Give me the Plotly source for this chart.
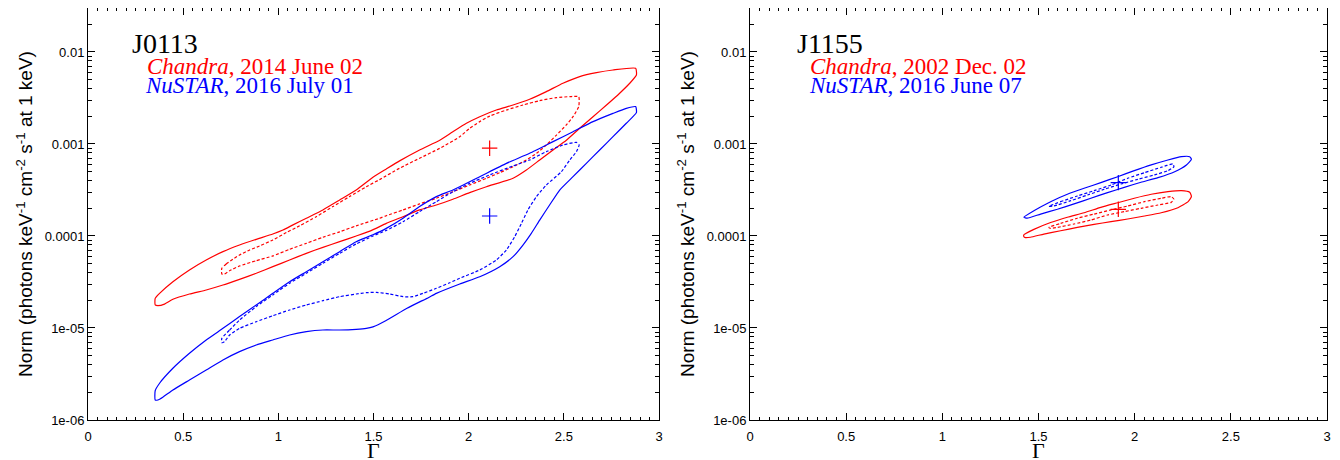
import plotly.graph_objects as go

# ---------------- data ----------------
# J0113 -- Chandra (red), outer (solid) and inner (dashed) contours
j0113_chandra_outer_gamma = [0.353, 0.376, 0.446, 0.533, 0.621, 0.709, 0.796, 0.884, 0.971, 1.024, 1.077, 1.147,
                             1.234, 1.322, 1.409, 1.497, 1.567, 1.637, 1.742, 1.848, 1.917, 1.988, 2.058, 2.145,
                             2.233, 2.320, 2.408, 2.495, 2.583, 2.671, 2.758, 2.877, 2.881, 2.846, 2.793, 2.724,
                             2.653, 2.583, 2.513, 2.443, 2.373, 2.303, 2.233, 2.093, 2.005, 1.917, 1.830, 1.742,
                             1.655, 1.567, 1.490, 1.409, 1.322, 1.234, 1.147, 1.059, 0.971, 0.884, 0.796, 0.709,
                             0.621, 0.533, 0.446, 0.402, 0.367, 0.353, 0.353]
j0113_chandra_outer_norm = [2.10e-5, 2.38e-5, 3.18e-5, 4.27e-5, 5.48e-5, 6.76e-5, 7.98e-5, 9.20e-5, 1.05e-4, 1.16e-4,
                            1.32e-4, 1.56e-4, 1.92e-4, 2.46e-4, 3.16e-4, 4.35e-4, 5.35e-4, 6.55e-4, 8.61e-4, 1.10e-3,
                            1.36e-3, 1.68e-3, 1.98e-3, 2.34e-3, 2.65e-3, 3.06e-3, 3.71e-3, 4.57e-3, 5.40e-3, 5.96e-3,
                            6.37e-3, 6.65e-3, 5.62e-3, 4.57e-3, 3.56e-3, 2.65e-3, 1.98e-3, 1.48e-3, 1.10e-3, 8.61e-4,
                            6.70e-4, 5.21e-4, 4.24e-4, 3.43e-4, 2.96e-4, 2.51e-4, 2.17e-4, 1.92e-4, 1.62e-4, 1.37e-4,
                            1.15e-4, 1.00e-4, 8.67e-5, 7.53e-5, 6.48e-5, 5.48e-5, 4.64e-5, 3.93e-5, 3.38e-5, 2.93e-5,
                            2.59e-5, 2.34e-5, 2.05e-5, 1.82e-5, 1.75e-5, 1.78e-5, 2.10e-5]
j0113_chandra_inner_gamma = [0.703, 0.726, 0.761, 0.796, 0.849, 0.901, 0.971, 1.042, 1.112, 1.199, 1.287, 1.374,
                             1.462, 1.532, 1.637, 1.742, 1.848, 1.953, 2.005, 2.058, 2.110, 2.198, 2.285, 2.373,
                             2.461, 2.531, 2.578, 2.578, 2.548, 2.513, 2.461, 2.408, 2.356, 2.303, 2.233, 2.163,
                             2.093, 2.005, 1.917, 1.830, 1.742, 1.655, 1.567, 1.532, 1.409, 1.322, 1.234, 1.147,
                             1.059, 0.971, 0.884, 0.796, 0.744, 0.717, 0.703, 0.703]
j0113_chandra_inner_norm = [4.46e-5, 4.97e-5, 5.58e-5, 6.21e-5, 7.05e-5, 7.79e-5, 9.05e-5, 1.09e-4, 1.29e-4, 1.62e-4,
                            2.09e-4, 2.68e-4, 3.43e-4, 4.10e-4, 5.45e-4, 7.00e-4, 8.97e-4, 1.20e-3, 1.48e-3, 1.75e-3,
                            2.01e-3, 2.34e-3, 2.65e-3, 2.96e-3, 3.19e-3, 3.27e-3, 3.27e-3, 2.55e-3, 1.98e-3, 1.61e-3,
                            1.25e-3, 9.75e-4, 7.92e-4, 6.70e-4, 5.66e-4, 4.88e-4, 4.24e-4, 3.58e-4, 3.03e-4, 2.57e-4,
                            2.23e-4, 1.92e-4, 1.66e-4, 1.56e-4, 1.29e-4, 1.11e-4, 9.69e-5, 8.32e-5, 7.17e-5, 6.07e-5,
                            5.39e-5, 4.72e-5, 4.20e-5, 3.86e-5, 3.86e-5, 4.46e-5]
j0113_chandra_best = (2.11, 9.0e-4)

# J0113 -- NuSTAR (blue)
j0113_nustar_outer_gamma = [0.353, 0.376, 0.446, 0.533, 0.621, 0.709, 0.796, 0.884, 0.971, 1.059, 1.147, 1.234,
                            1.322, 1.409, 1.497, 1.567, 1.655, 1.742, 1.830, 1.917, 2.058, 2.198, 2.320, 2.443,
                            2.548, 2.653, 2.758, 2.828, 2.877, 2.881, 2.828, 2.758, 2.688, 2.618, 2.548, 2.478,
                            2.425, 2.373, 2.329, 2.285, 2.233, 2.163, 2.058, 1.953, 1.830, 1.790, 1.676, 1.564,
                            1.497, 1.462, 1.409, 1.322, 1.234, 1.147, 1.059, 0.971, 0.884, 0.796, 0.709, 0.621,
                            0.533, 0.446, 0.393, 0.367, 0.353, 0.353]
j0113_nustar_outer_norm = [2.08e-6, 2.51e-6, 3.65e-6, 5.31e-6, 7.41e-6, 9.91e-6, 1.33e-5, 1.78e-5, 2.38e-5, 3.18e-5,
                           4.09e-5, 5.26e-5, 6.76e-5, 8.67e-5, 1.03e-4, 1.21e-4, 1.56e-4, 2.09e-4, 2.68e-4, 3.16e-4,
                           4.41e-4, 6.16e-4, 7.92e-4, 1.06e-3, 1.36e-3, 1.75e-3, 2.15e-3, 2.44e-3, 2.55e-3, 2.19e-3,
                           1.68e-3, 1.20e-3, 8.61e-4, 6.16e-4, 4.41e-4, 3.16e-4, 2.17e-4, 1.49e-4, 1.07e-4, 7.98e-5,
                           5.96e-5, 4.64e-5, 3.61e-5, 3.01e-5, 2.38e-5, 2.15e-5, 1.64e-5, 1.20e-5, 1.03e-5, 9.91e-6,
                           9.68e-6, 9.51e-6, 9.51e-6, 9.12e-6, 8.39e-6, 7.41e-6, 6.54e-6, 5.53e-6, 4.49e-6, 3.49e-6,
                           2.72e-6, 2.12e-6, 1.77e-6, 1.65e-6, 1.65e-6, 2.08e-6]
j0113_nustar_inner_gamma = [0.703, 0.744, 0.796, 0.884, 0.971, 1.059, 1.147, 1.234, 1.322, 1.409, 1.497, 1.567,
                            1.655, 1.742, 1.830, 1.917, 2.005, 2.110, 2.233, 2.320, 2.408, 2.495, 2.566, 2.580,
                            2.566, 2.531, 2.487, 2.408, 2.356, 2.311, 2.277, 2.242, 2.198, 2.145, 2.058, 1.953,
                            1.900, 1.830, 1.760, 1.707, 1.655, 1.585, 1.515, 1.462, 1.409, 1.322, 1.234, 1.147,
                            1.059, 0.971, 0.884, 0.796, 0.744, 0.717, 0.703, 0.703]
j0113_nustar_inner_norm = [7.72e-6, 9.51e-6, 1.22e-5, 1.71e-5, 2.29e-5, 3.06e-5, 3.93e-5, 5.05e-5, 6.48e-5, 8.19e-5,
                           1.00e-4, 1.15e-4, 1.43e-4, 1.84e-4, 2.36e-4, 3.03e-4, 3.73e-4, 4.61e-4, 5.77e-4, 6.70e-4,
                           8.26e-4, 9.75e-4, 1.04e-3, 9.75e-4, 8.26e-4, 6.70e-4, 5.00e-4, 3.58e-4, 2.68e-4, 1.92e-4,
                           1.37e-4, 9.84e-5, 7.05e-5, 5.48e-5, 4.27e-5, 3.47e-5, 3.10e-5, 2.70e-5, 2.38e-5, 2.19e-5,
                           2.19e-5, 2.34e-5, 2.44e-5, 2.42e-5, 2.34e-5, 2.19e-5, 1.98e-5, 1.78e-5, 1.57e-5, 1.36e-5,
                           1.17e-5, 9.91e-6, 8.39e-6, 7.10e-6, 6.92e-6, 7.72e-6]
j0113_nustar_best = (2.11, 1.65e-4)

# J1155 -- Chandra (red)
j1155_chandra_outer_gamma = [1.424, 1.476, 1.563, 1.650, 1.737, 1.824, 1.912, 1.998, 2.086, 2.173, 2.243, 2.286,
                             2.295, 2.278, 2.225, 2.138, 2.051, 1.964, 1.877, 1.789, 1.702, 1.615, 1.528, 1.458,
                             1.432, 1.424, 1.424]
j1155_chandra_outer_norm = [1.03e-4, 1.18e-4, 1.40e-4, 1.60e-4, 1.79e-4, 2.05e-4, 2.30e-4, 2.57e-4, 2.84e-4, 3.03e-4,
                            3.11e-4, 2.99e-4, 2.68e-4, 2.36e-4, 2.03e-4, 1.79e-4, 1.65e-4, 1.53e-4, 1.43e-4, 1.34e-4,
                            1.24e-4, 1.14e-4, 1.05e-4, 9.69e-5, 9.60e-5, 9.82e-5, 1.03e-4]
j1155_chandra_inner_gamma = [1.554, 1.615, 1.702, 1.789, 1.877, 1.964, 2.051, 2.138, 2.190, 2.204, 2.190, 2.121,
                             2.033, 1.946, 1.859, 1.772, 1.685, 1.598, 1.563, 1.554]
j1155_chandra_inner_norm = [1.24e-4, 1.37e-4, 1.56e-4, 1.73e-4, 1.92e-4, 2.12e-4, 2.36e-4, 2.57e-4, 2.68e-4, 2.51e-4,
                            2.32e-4, 2.17e-4, 2.00e-4, 1.84e-4, 1.69e-4, 1.49e-4, 1.35e-4, 1.24e-4, 1.21e-4, 1.24e-4]
j1155_chandra_best = (1.915, 1.95e-4)

# J1155 -- NuSTAR (blue)
j1155_nustar_outer_gamma = [1.424, 1.476, 1.563, 1.650, 1.737, 1.824, 1.912, 1.998, 2.086, 2.173, 2.243, 2.286,
                            2.295, 2.269, 2.208, 2.121, 2.033, 1.946, 1.859, 1.772, 1.685, 1.598, 1.511, 1.441,
                            1.424]
j1155_nustar_outer_norm = [1.60e-4, 1.88e-4, 2.36e-4, 2.84e-4, 3.30e-4, 3.80e-4, 4.41e-4, 5.13e-4, 5.92e-4, 6.70e-4,
                           7.28e-4, 7.28e-4, 6.82e-4, 5.92e-4, 5.00e-4, 4.31e-4, 3.84e-4, 3.38e-4, 2.96e-4, 2.57e-4,
                           2.23e-4, 1.95e-4, 1.73e-4, 1.56e-4, 1.60e-4]
j1155_nustar_inner_gamma = [1.554, 1.615, 1.702, 1.789, 1.877, 1.964, 2.051, 2.138, 2.199, 2.204, 2.173, 2.103,
                            2.016, 1.929, 1.842, 1.755, 1.668, 1.580, 1.554]
j1155_nustar_inner_norm = [2.10e-4, 2.36e-4, 2.72e-4, 3.11e-4, 3.58e-4, 4.24e-4, 4.88e-4, 5.58e-4, 6.07e-4, 5.66e-4,
                           5.13e-4, 4.61e-4, 4.13e-4, 3.67e-4, 3.22e-4, 2.79e-4, 2.42e-4, 2.12e-4, 2.10e-4]
j1155_nustar_best = (1.915, 3.80e-4)

# labels
panel_names = ["J0113", "J1155"]
chandra_labels = ["<i>Chandra</i>, 2014 June 02", "<i>Chandra</i>, 2002 Dec. 02"]
nustar_labels = ["<i>NuSTAR</i>, 2016 July 01", "<i>NuSTAR</i>, 2016 June 07"]
x_tick_vals = [0, 0.5, 1, 1.5, 2, 2.5, 3]
x_tick_text = ["0", "0.5", "1", "1.5", "2", "2.5", "3"]
y_tick_vals = [1e-6, 1e-5, 1e-4, 1e-3, 1e-2]
y_tick_text = ["1e-06", "1e-05", "0.0001", "0.001", "0.01"]
x_title = "Γ"
y_title = "Norm (photons keV<sup>-1</sup> cm<sup>-2</sup> s<sup>-1</sup> at 1 keV)"

RED = "#ff0000"
BLUE = "#0000ff"
DASH = "3px,2px"

fig = go.Figure()

panels = [
    dict(xa="x", ya="y", sets=[
        (j0113_chandra_outer_gamma, j0113_chandra_outer_norm, RED, "solid"),
        (j0113_chandra_inner_gamma, j0113_chandra_inner_norm, RED, DASH),
        (j0113_nustar_outer_gamma, j0113_nustar_outer_norm, BLUE, "solid"),
        (j0113_nustar_inner_gamma, j0113_nustar_inner_norm, BLUE, DASH),
    ], best=[(j0113_chandra_best, RED), (j0113_nustar_best, BLUE)]),
    dict(xa="x2", ya="y2", sets=[
        (j1155_chandra_outer_gamma, j1155_chandra_outer_norm, RED, "solid"),
        (j1155_chandra_inner_gamma, j1155_chandra_inner_norm, RED, DASH),
        (j1155_nustar_outer_gamma, j1155_nustar_outer_norm, BLUE, "solid"),
        (j1155_nustar_inner_gamma, j1155_nustar_inner_norm, BLUE, DASH),
    ], best=[(j1155_chandra_best, RED), (j1155_nustar_best, BLUE)]),
]

for p in panels:
    for gx, ny, col, dash in p["sets"]:
        fig.add_trace(go.Scatter(x=gx, y=ny, mode="lines", xaxis=p["xa"], yaxis=p["ya"],
                                 line=dict(color=col, width=1.2, dash=dash, shape="spline", smoothing=0.5),
                                 showlegend=False, hoverinfo="skip"))
    for (bx, by), col in p["best"]:
        fig.add_trace(go.Scatter(x=[bx], y=[by], mode="markers", xaxis=p["xa"], yaxis=p["ya"],
                                 marker=dict(symbol="cross-thin", size=11, line=dict(color=col, width=1.2)),
                                 showlegend=False, hoverinfo="skip"))

minor_y = [m * 10.0 ** e for e in range(-6, -1) for m in range(2, 10)]

tick_font = dict(family="Liberation Sans, Arial, sans-serif", size=13, color="#000")
serif = "Liberation Serif, Times New Roman, serif"

def xaxis_style(domain, anchor):
    return dict(domain=domain, anchor=anchor, range=[0, 3], tickmode="array", tickvals=x_tick_vals,
                ticktext=x_tick_text, ticks="inside", ticklen=7, tickwidth=1, tickcolor="#000",
                ticklabelstandoff=4, automargin=False,
                minor=dict(ticks="inside", dtick=0.05, tick0=0, ticklen=3, tickcolor="#000", tickwidth=1),
                showline=True, linecolor="#000", linewidth=1, mirror="allticks", showgrid=False,
                zeroline=False, tickfont=tick_font)

def yaxis_style(anchor):
    return dict(domain=[0, 1], anchor=anchor, type="log", range=[-6, -1.522], tickmode="array",
                tickvals=y_tick_vals, ticktext=y_tick_text, ticks="inside", ticklen=7, tickwidth=1,
                tickcolor="#000", automargin=False,
                minor=dict(ticks="inside", tickmode="array", tickvals=minor_y, ticklen=4, tickcolor="#000",
                           tickwidth=1),
                showline=True, linecolor="#000", linewidth=1, mirror="allticks", showgrid=False,
                zeroline=False, tickfont=tick_font,
                title=dict(text=y_title, font=dict(family="Liberation Sans, Arial, sans-serif", size=19,
                                                   color="#000"), standoff=6))

# the page body keeps its 8 px margin, so the figure is sized to fit inside the window
fig.update_layout(
    width=1332, height=452,
    margin=dict(l=80, r=13, t=0, b=40),
    paper_bgcolor="#fff", plot_bgcolor="#fff",
    xaxis=xaxis_style([0, 0.4609], "y"),
    yaxis=yaxis_style("x"),
    xaxis2=xaxis_style([0.5343, 1], "y2"),
    yaxis2=yaxis_style("x2"),
)

# panel labels and x-axis titles
label_pos = [
    dict(xref="x domain", yref="y domain", name_x=0.0727, chan_x=0.099, nu_x=0.0955),
    dict(xref="x2 domain", yref="y2 domain", name_x=0.078, chan_x=0.1005, nu_x=0.0988),
]
for i, lp in enumerate(label_pos):
    fig.add_annotation(xref=lp["xref"], yref=lp["yref"], x=0.5, y=-0.073, xanchor="center",
                       yanchor="middle", showarrow=False, text=x_title,
                       font=dict(family=serif, size=22, color="#000"))
    fig.add_annotation(xref=lp["xref"], yref=lp["yref"], x=lp["name_x"], y=0.915, xanchor="left",
                       yanchor="middle", showarrow=False, text=panel_names[i],
                       font=dict(family=serif, size=28, color="#000"))
    fig.add_annotation(xref=lp["xref"], yref=lp["yref"], x=lp["chan_x"], y=0.859, xanchor="left",
                       yanchor="middle", showarrow=False, text=chandra_labels[i],
                       font=dict(family=serif, size=23, color=RED))
    fig.add_annotation(xref=lp["xref"], yref=lp["yref"], x=lp["nu_x"], y=0.811, xanchor="left",
                       yanchor="middle", showarrow=False, text=nustar_labels[i],
                       font=dict(family=serif, size=23, color=BLUE))

fig.write_html("out.html")
